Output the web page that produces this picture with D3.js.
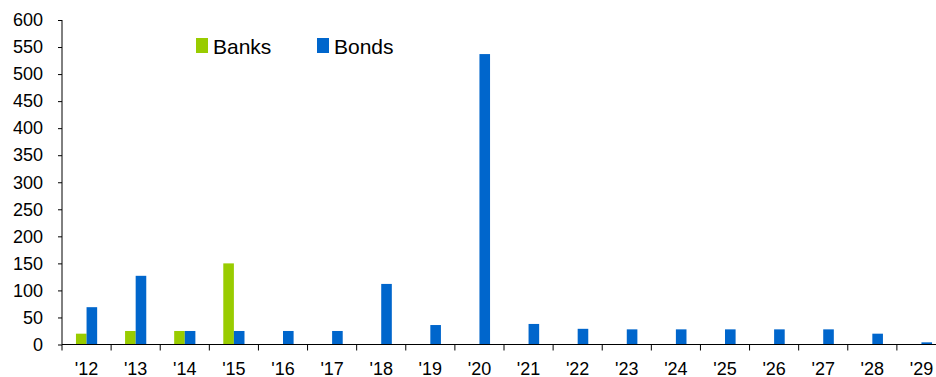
<!DOCTYPE html>
<html>
<head>
<meta charset="utf-8">
<script src="https://cdn.jsdelivr.net/npm/d3@7"></script>
<style>
  body { margin: 0; background: #fff; }
  svg { display: block; font-family: "Liberation Sans", Arial, sans-serif; }
</style>
</head>
<body>
<div id="chart"></div>
<script>
// data
const years = ["'12", "'13", "'14", "'15", "'16", "'17", "'18", "'19", "'20",
               "'21", "'22", "'23", "'24", "'25", "'26", "'27", "'28", "'29"];
const banks = [20, 25, 25, 150, 0, 0, 0, 0, 0, 0, 0, 0, 0, 0, 0, 0, 0, 0];
const bonds = [69, 127, 25, 25, 25, 25, 112, 36, 537, 38, 29, 28, 28, 28, 28, 28, 20, 4];
const yTicks = [0, 50, 100, 150, 200, 250, 300, 350, 400, 450, 500, 550, 600];
const seriesNames = ["Banks", "Bonds"];
const colors = ["#99CC00", "#0066CC"];

const width = 936;
const height = 377;

const svg = d3.select("#chart")
    .append("svg")
    .attr("width", width)
    .attr("height", height);

// plot runs a bit past the right edge, as in the picture
const x = d3.scaleBand()
    .domain(years)
    .range([62, 946])
    .padding(0);

const y = d3.scaleLinear()
    .domain([0, 600])
    .range([344.5, 20]);

const barW = 10.6;

// bars
const data = years.map((yr, i) => ({ year: yr, values: [banks[i], bonds[i]] }));

const groups = svg.selectAll("g.grp")
    .data(data)
    .enter()
    .append("g")
    .attr("class", "grp")
    .attr("transform", d => `translate(${x(d.year) + x.bandwidth() / 2},0)`);

groups.selectAll("rect")
    .data(d => d.values.map((v, k) => ({ v, k })).filter(e => e.v > 0))
    .enter()
    .append("rect")
    .attr("x", d => (d.k - 1) * barW)
    .attr("y", d => y(d.v))
    .attr("width", barW)
    .attr("height", d => y(0) - y(d.v))
    .attr("fill", d => colors[d.k]);

// y axis
const yAxis = svg.append("g")
    .attr("transform", "translate(62,0)")
    .call(d3.axisLeft(y).tickValues(yTicks).tickSize(4).tickPadding(15));
yAxis.selectAll("text").attr("font-size", 18).attr("fill", "#000")
    .attr("font-family", "Liberation Sans, Arial, sans-serif");
yAxis.selectAll("line, path").attr("stroke", "#000");
yAxis.select(".domain").attr("d", `M0,${y(600)}V${y(0)}`);

// x axis: ticks sit between the categories
const xAxis = svg.append("g")
    .attr("transform", `translate(0,${y(0)})`);
xAxis.append("line")
    .attr("x1", 62).attr("x2", width)
    .attr("stroke", "#000");
xAxis.selectAll("line.tick")
    .data(years)
    .enter()
    .append("line")
    .attr("class", "tick")
    .attr("x1", d => x(d)).attr("x2", d => x(d))
    .attr("y1", 0).attr("y2", 6)
    .attr("stroke", "#000");
xAxis.selectAll("text")
    .data(years)
    .enter()
    .append("text")
    .attr("x", d => x(d) + x.bandwidth() / 2)
    .attr("y", 30)
    .attr("text-anchor", "middle")
    .attr("font-size", 18)
    .text(d => d);

// legend
const legendX = [196, 317];
const legend = svg.selectAll("g.legend")
    .data(seriesNames)
    .enter()
    .append("g")
    .attr("class", "legend")
    .attr("transform", (d, i) => `translate(${legendX[i]},38)`);
legend.append("rect")
    .attr("width", 12).attr("height", 15)
    .attr("fill", (d, i) => colors[i]);
legend.append("text")
    .attr("x", 17).attr("y", 16)
    .attr("font-size", 21)
    .text(d => d);
</script>
</body>
</html>
